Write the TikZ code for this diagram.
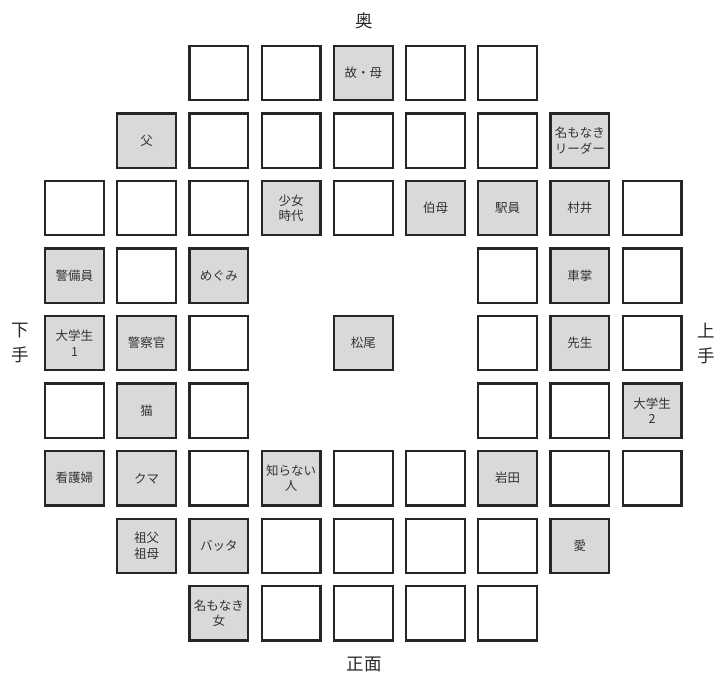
\documentclass[tikz,border=0pt]{standalone}
\usepackage{fontspec}
\setmainfont{Noto Sans CJK JP}
\begin{document}
\begin{tikzpicture}[x=1pt,y=-1pt,
  cell/.style={draw=black!85, line width=2.2pt, fill=white, minimum width=58.8pt,
    minimum height=54.3pt, inner sep=0pt, align=center,
    font=\fontsize{12.5}{15.5}\selectfont, text=black!80},
  role/.style={cell, fill=black!15},
  side/.style={inner sep=0pt, align=center, font=\fontsize{17.5}{25}\selectfont, text=black!85}]
\useasboundingbox (0,0) rectangle (721,679);
% column centres: 74.5 146.7 218.9 291.1 363.3 435.5 507.7 579.9 652.1
% row centres: 73.25 140.75 208.25 275.75 343.25 410.75 478.25 545.75 613.25
% row 0
\node[cell] (r0c2) at (218.9,73.25) {};
\node[cell] (r0c3) at (291.1,73.25) {};
\node[role] (r0c4) at (363.3,73.25) {故・母};
\node[cell] (r0c5) at (435.5,73.25) {};
\node[cell] (r0c6) at (507.7,73.25) {};
% row 1
\node[role] (r1c1) at (146.7,140.75) {父};
\node[cell] (r1c2) at (218.9,140.75) {};
\node[cell] (r1c3) at (291.1,140.75) {};
\node[cell] (r1c4) at (363.3,140.75) {};
\node[cell] (r1c5) at (435.5,140.75) {};
\node[cell] (r1c6) at (507.7,140.75) {};
\node[role] (r1c7) at (579.9,140.75) {名もなき\\リーダー};
% row 2
\node[cell] (r2c0) at (74.5,208.25) {};
\node[cell] (r2c1) at (146.7,208.25) {};
\node[cell] (r2c2) at (218.9,208.25) {};
\node[role] (r2c3) at (291.1,208.25) {少女\\時代};
\node[cell] (r2c4) at (363.3,208.25) {};
\node[role] (r2c5) at (435.5,208.25) {伯母};
\node[role] (r2c6) at (507.7,208.25) {駅員};
\node[role] (r2c7) at (579.9,208.25) {村井};
\node[cell] (r2c8) at (652.1,208.25) {};
% row 3
\node[role] (r3c0) at (74.5,275.75) {警備員};
\node[cell] (r3c1) at (146.7,275.75) {};
\node[role] (r3c2) at (218.9,275.75) {めぐみ};
\node[cell] (r3c6) at (507.7,275.75) {};
\node[role] (r3c7) at (579.9,275.75) {車掌};
\node[cell] (r3c8) at (652.1,275.75) {};
% row 4
\node[role] (r4c0) at (74.5,343.25) {大学生\\1};
\node[role] (r4c1) at (146.7,343.25) {警察官};
\node[cell] (r4c2) at (218.9,343.25) {};
\node[role] (r4c4) at (363.3,343.25) {松尾};
\node[cell] (r4c6) at (507.7,343.25) {};
\node[role] (r4c7) at (579.9,343.25) {先生};
\node[cell] (r4c8) at (652.1,343.25) {};
% row 5
\node[cell] (r5c0) at (74.5,410.75) {};
\node[role] (r5c1) at (146.7,410.75) {猫};
\node[cell] (r5c2) at (218.9,410.75) {};
\node[cell] (r5c6) at (507.7,410.75) {};
\node[cell] (r5c7) at (579.9,410.75) {};
\node[role] (r5c8) at (652.1,410.75) {大学生\\2};
% row 6
\node[role] (r6c0) at (74.5,478.25) {看護婦};
\node[role] (r6c1) at (146.7,478.25) {クマ};
\node[cell] (r6c2) at (218.9,478.25) {};
\node[role] (r6c3) at (291.1,478.25) {知らない\\人};
\node[cell] (r6c4) at (363.3,478.25) {};
\node[cell] (r6c5) at (435.5,478.25) {};
\node[role] (r6c6) at (507.7,478.25) {岩田};
\node[cell] (r6c7) at (579.9,478.25) {};
\node[cell] (r6c8) at (652.1,478.25) {};
% row 7
\node[role] (r7c1) at (146.7,545.75) {祖父\\祖母};
\node[role] (r7c2) at (218.9,545.75) {バッタ};
\node[cell] (r7c3) at (291.1,545.75) {};
\node[cell] (r7c4) at (363.3,545.75) {};
\node[cell] (r7c5) at (435.5,545.75) {};
\node[cell] (r7c6) at (507.7,545.75) {};
\node[role] (r7c7) at (579.9,545.75) {愛};
% row 8
\node[role] (r8c2) at (218.9,613.25) {名もなき\\女};
\node[cell] (r8c3) at (291.1,613.25) {};
\node[cell] (r8c4) at (363.3,613.25) {};
\node[cell] (r8c5) at (435.5,613.25) {};
\node[cell] (r8c6) at (507.7,613.25) {};
% stage directions
\node[side] (back) at (364,21) {奥};
\node[side] (front) at (364,664) {正面};
\node[side] (left) at (20,343) {下\\手};
\node[side] (right) at (706,343) {上\\手};
\end{tikzpicture}
\end{document}
